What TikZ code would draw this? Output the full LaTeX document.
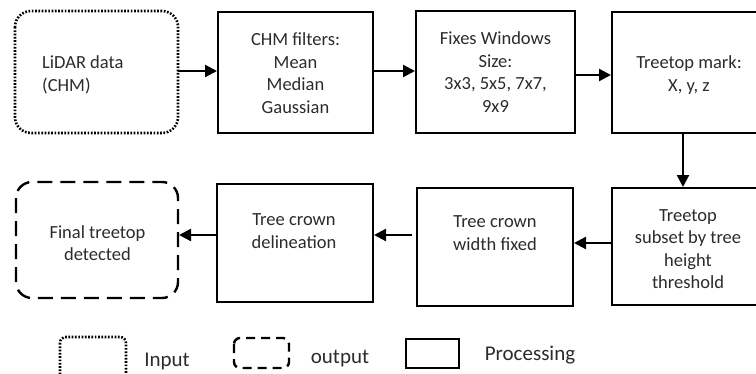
\documentclass[tikz,border=0pt]{standalone}
\usepackage{fontspec}
\setmainfont{Carlito}
\usetikzlibrary{arrows.meta}
\definecolor{txt}{HTML}{2B2B2B}
\begin{document}
\begin{tikzpicture}[x=1pt,y=-1pt,
  box/.style={draw=black,line width=2.2pt},
  inbox/.style={draw=black,line width=2.6pt,dash pattern=on 1.7pt off 1.6pt,rounded corners=16pt},
  outbox/.style={draw=black,line width=2.4pt,dash pattern=on 15pt off 8pt,rounded corners=16pt},
  lbl/.style={text=txt,font=\fontsize{18.5}{22.5}\selectfont,align=center,inner sep=0pt},
  leg/.style={text=txt,font=\fontsize{21}{24}\selectfont,inner sep=0pt,anchor=base},
  arr/.style={line width=2.2pt,-{Triangle[length=12pt,width=12pt]}}]
\useasboundingbox (0,0) rectangle (756,373);
% row 1
\draw[inbox] (15,11) rectangle (178,133);
\node[inner sep=0pt] (lidar) at (96.5,72) {};
\node[lbl,align=left,anchor=west] (lidart) at (42,75) {LiDAR data\\(CHM)};
\draw[box] (218,12) rectangle (373,133);
\node[inner sep=0pt] (chm) at (295.5,72.5) {};
\node[lbl] at (295.5,73) {CHM filters:\\Mean\\Median\\Gaussian};
\draw[box] (416,11) rectangle (575,133);
\node[inner sep=0pt] (fix) at (495.5,72) {};
\node[lbl] at (495.5,72) {Fixes Windows\\Size:\\3x3, 5x5, 7x7,\\9x9};
\draw[box] (612,12) rectangle (766,133);
\node[inner sep=0pt] (mark) at (683,72) {};
\node[lbl] at (689,75) {Treetop mark:\\X, y, z};
% row 2
\draw[box] (612,188) rectangle (766,305);
\node[inner sep=0pt] (subset) at (683,246) {};
\node[lbl] at (688,249) {Treetop\\subset by tree\\height\\threshold};
\draw[box] (417,188) rectangle (573,306);
\node[inner sep=0pt] (width) at (495,247) {};
\node[lbl] at (495,233) {Tree crown\\width fixed};
\draw[box] (217,184) rectangle (373,302);
\node[inner sep=0pt] (delin) at (295,243) {};
\node[lbl] at (294,231) {Tree crown\\delineation};
\draw[outbox] (16,182) rectangle (178,298);
\node[inner sep=0pt] (final) at (97,240) {};
\node[lbl] at (97.5,243) {Final treetop\\detected};
% arrows
\coordinate (a1s) at (178,71); \coordinate (a1e) at (217,71);
\draw[arr] (a1s) -- (a1e);
\coordinate (a2s) at (373,71); \coordinate (a2e) at (415,71);
\draw[arr] (a2s) -- (a2e);
\coordinate (a3s) at (575,75); \coordinate (a3e) at (611,75);
\draw[arr] (a3s) -- (a3e);
\coordinate (a4s) at (683,133); \coordinate (a4e) at (683,187);
\draw[arr] (a4s) -- (a4e);
\coordinate (a5s) at (612,243); \coordinate (a5e) at (574,243);
\draw[arr] (a5s) -- (a5e);
\coordinate (a6s) at (412,235); \coordinate (a6e) at (374,235);
\draw[arr] (a6s) -- (a6e);
\coordinate (a7s) at (217,235); \coordinate (a7e) at (179,235);
\draw[arr] (a7s) -- (a7e);
% legend
\draw[draw=black,line width=2.6pt,dash pattern=on 1.7pt off 1.6pt,rounded corners=6pt] (60,337) rectangle (126,382);
\node[leg] (lin) at (167,366) {Input};
\draw[draw=black,line width=2.4pt,dash pattern=on 9pt off 6pt,rounded corners=6pt] (234,338) rectangle (289,368);
\node[leg] (lout) at (340,363) {output};
\draw[box] (406,339) rectangle (459,368);
\node[leg] (lproc) at (530,360) {Processing};
\end{tikzpicture}
\end{document}
